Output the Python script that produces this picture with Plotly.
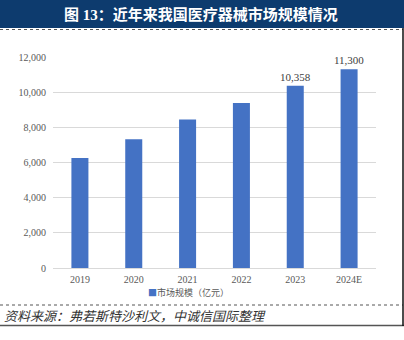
import plotly.graph_objects as go

years = ["2019", "2020", "2021", "2022", "2023", "2024E"]
market_size = [6260, 7320, 8450, 9380, 10358, 11300]
labelled_years = ["2023", "2024E"]
y_ticks = [0, 2000, 4000, 6000, 8000, 10000, 12000]

title_text = "图 13：近年来我国医疗器械市场规模情况"
legend_text = "市场规模（亿元）"
source_text = "资料来源：弗若斯特沙利文，中诚信国际整理"

W, H = 404, 340
ML, MR, MT, MB = 53, 28, 57, 72
PW, PH = W - ML - MR, H - MT - MB


def fx(x):
    return (x - ML) / PW


def fy(y):
    return (H - MB - y) / PH


bar_text = [f"{v:,}" if yr in labelled_years else "" for yr, v in zip(years, market_size)]

fig = go.Figure()
fig.add_trace(go.Bar(
    x=years, y=market_size,
    marker=dict(color="#4472C4", line=dict(width=0)),
    text=bar_text, textposition="outside", cliponaxis=False, constraintext="none",
    textfont=dict(family="Liberation Serif", size=11, color="#404040"),
    showlegend=False, hoverinfo="skip",
))

serif = "Liberation Serif, Noto Sans CJK SC"
fig.update_layout(
    width=W, height=H,
    margin=dict(l=ML, r=MR, t=MT, b=MB, autoexpand=False),
    paper_bgcolor="white", plot_bgcolor="white",
    bargap=0.684,
    xaxis=dict(
        type="category", showgrid=False, showline=False, zeroline=False,
        tickfont=dict(family=serif, size=10, color="#595959"),
        ticks="outside", ticklen=2, tickcolor="rgba(0,0,0,0)", fixedrange=True,
    ),
    yaxis=dict(
        range=[0, 12000], tickvals=y_ticks, tickformat=",",
        showgrid=True, gridcolor="#D9D9D9", gridwidth=1,
        zeroline=True, zerolinecolor="#D9D9D9", zerolinewidth=1,
        showline=False, ticks="", ticklabelstandoff=6,
        tickfont=dict(family=serif, size=10, color="#595959"),
    ),
    font=dict(family=serif),
)

shapes = [
    dict(type="rect", xref="paper", yref="paper", x0=fx(0), x1=fx(W), y0=fy(28), y1=fy(0),
         fillcolor="#0D3B6E", line=dict(width=0), layer="above"),
    dict(type="line", xref="paper", yref="paper", x0=fx(0), x1=fx(403), y0=fy(29.5), y1=fy(29.5),
         line=dict(color="#555555", width=1, dash="dot")),
    dict(type="line", xref="paper", yref="paper", x0=fx(0), x1=fx(403), y0=fy(305), y1=fy(305),
         line=dict(color="#555555", width=1, dash="dot")),
    dict(type="line", xref="paper", yref="paper", x0=fx(0), x1=fx(404), y0=fy(325.5), y1=fy(325.5),
         line=dict(color="#555555", width=1.5)),
    dict(type="line", xref="paper", yref="paper", x0=fx(403), x1=fx(403), y0=fy(28), y1=fy(326),
         line=dict(color="#111111", width=1.5)),
]
fig.update_layout(shapes=shapes)

annotations = [
    dict(text=f"<b>{title_text}</b>", xref="paper", yref="paper", x=fx(201), y=fy(14.5),
         xanchor="center", yanchor="middle", showarrow=False,
         font=dict(family="Liberation Serif, Noto Sans CJK SC", size=15, color="white")),
    dict(text=f"<span style='color:#4472C4'>■</span>{legend_text}", xref="paper", yref="paper",
         x=fx(146), y=fy(292), xanchor="left", yanchor="middle", showarrow=False,
         font=dict(family="Noto Sans CJK SC", size=9, color="#595959")),
    dict(text=f"<i>{source_text}</i>", xref="paper", yref="paper", x=fx(2), y=fy(315.5),
         xanchor="left", yanchor="middle", showarrow=False,
         font=dict(family="Noto Sans CJK SC", size=13, color="#333333")),
]
fig.update_layout(annotations=annotations)

fig.write_html("out.html")
